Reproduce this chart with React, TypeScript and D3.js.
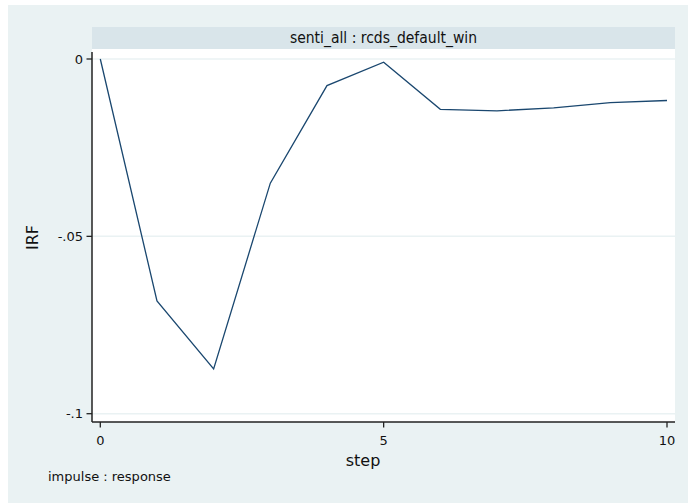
import React from "react";
import * as d3 from "d3";

// Impulse response function over forecast steps
const steps: number[] = [0, 1, 2, 3, 4, 5, 6, 7, 8, 9, 10];
const irf: number[] = [0, -0.0682, -0.0874, -0.035, -0.0075, -0.0009, -0.0142, -0.0146, -0.0138, -0.0123, -0.0117];
const yTicks: number[] = [0, -0.05, -0.1];
const yTickLabels: string[] = ["0", "-.05", "-.1"];
const xTicks: number[] = [0, 5, 10];
const panelTitle = "senti_all : rcds_default_win";

const W = 688;
const H = 503;
const FONT = "'DejaVu Sans', Verdana, sans-serif";

export default function App() {
  const plot = { left: 92, right: 675, top: 49, bottom: 422 };
  const x = d3.scaleLinear().domain([0, 10]).range([100.3, 667]);
  const y = d3.scaleLinear().domain([0, -0.1]).range([59, 413.7]);

  const line = d3
    .line<number>()
    .x((_, i) => x(steps[i]))
    .y((d) => y(d));

  return (
    <svg
      width={W}
      height={H}
      style={{ position: "absolute", left: 0, top: 0, display: "block" }}
    >
      <rect x={0} y={0} width={W} height={H} fill="#ffffff" />
      {/* graph region */}
      <rect x={8} y={5} width={W - 8} height={H - 5} fill="#eaf2f3" />
      {/* panel title strip */}
      <rect x={plot.left} y={27} width={plot.right - plot.left} height={22} fill="#d9e5ea" />
      <text
        x={(plot.left + plot.right) / 2}
        y={43}
        textAnchor="middle"
        fontFamily="'DejaVu Sans Condensed', 'DejaVu Sans', sans-serif"
        fontStretch="condensed"
        fontSize={15.5}
        fill="#111"
      >
        {panelTitle}
      </text>
      {/* plot region */}
      <rect
        x={plot.left}
        y={plot.top}
        width={plot.right - plot.left}
        height={plot.bottom - plot.top}
        fill="#ffffff"
      />
      {yTicks.map((t) => (
        <line
          key={"g" + t}
          x1={plot.left}
          x2={plot.right}
          y1={y(t)}
          y2={y(t)}
          stroke="#eaf2f3"
          strokeWidth={1.5}
        />
      ))}
      <path d={line(irf) ?? ""} fill="none" stroke="#1a476f" strokeWidth={1.3} strokeLinejoin="miter" />
      {/* axes */}
      <line x1={plot.left} x2={plot.left} y1={52} y2={plot.bottom} stroke="#222" strokeWidth={1.5} />
      <line x1={plot.left} x2={plot.right} y1={plot.bottom} y2={plot.bottom} stroke="#222" strokeWidth={1.5} />
      {yTicks.map((t, i) => (
        <g key={"y" + t}>
          <line x1={86.5} x2={plot.left} y1={y(t)} y2={y(t)} stroke="#222" strokeWidth={1.3} />
          <text
            x={83}
            y={y(t)}
            dy="0.36em"
            textAnchor="end"
            fontFamily={FONT}
            fontSize={13}
            fill="#111"
          >
            {yTickLabels[i]}
          </text>
        </g>
      ))}
      {xTicks.map((t) => (
        <g key={"x" + t}>
          <line x1={x(t)} x2={x(t)} y1={plot.bottom} y2={plot.bottom + 5.5} stroke="#222" strokeWidth={1.3} />
          <text
            x={x(t)}
            y={445}
            textAnchor="middle"
            fontFamily={FONT}
            fontSize={13}
            fill="#111"
          >
            {String(t)}
          </text>
        </g>
      ))}
      <text x={363} y={466} textAnchor="middle" fontFamily={FONT} fontSize={16} fill="#111">
        step
      </text>
      <text
        transform={`translate(38, 237.5) rotate(-90)`}
        textAnchor="middle"
        fontFamily={FONT}
        fontSize={16}
        fill="#111"
      >
        IRF
      </text>
      <text x={48} y={481} fontFamily={FONT} fontSize={13} fill="#111">
        impulse : response
      </text>
    </svg>
  );
}
